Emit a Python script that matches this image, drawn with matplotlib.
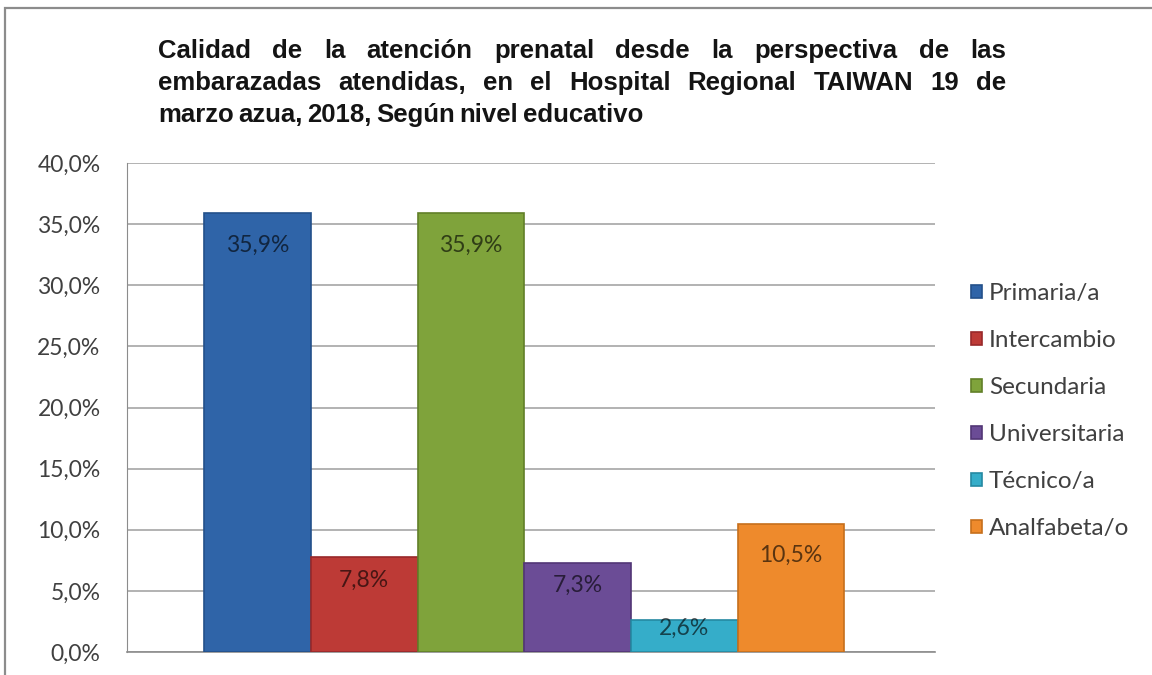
import matplotlib
matplotlib.use('Agg')
import matplotlib.pyplot as plt
from matplotlib.patches import Rectangle

# Datos del gráfico
categorias = ['Primaria/a', 'Intercambio', 'Secundaria', 'Universitaria', 'Técnico/a', 'Analfabeta/o']
valores = [35.9, 7.8, 35.9, 7.3, 2.6, 10.5]
colores = ['#2F64A8', '#BD3A36', '#7FA33B', '#6B4C96', '#35ADC9', '#EE8A2C']
bordes = ['#23508A', '#98292A', '#617F28', '#523676', '#2589A2', '#C66F1C']
ticks_y = [0, 5, 10, 15, 20, 25, 30, 35, 40]

titulo = [
    "Calidad de la atención prenatal desde la perspectiva de las",
    "embarazadas atendidas, en el Hospital Regional TAIWAN 19 de",
    "marzo azua, 2018, Según nivel educativo",
]

W, H = 1152, 675
fig = plt.figure(figsize=(W / 100, H / 100), dpi=100)
fig.patch.set_facecolor('white')

# marco exterior
fig.patches.append(Rectangle((5 / W, -0.02), 1.05, 1 - 8 / H + 0.02,
                             transform=fig.transFigure, fill=False,
                             edgecolor='#8c8c8c', linewidth=1.6))

ax = fig.add_axes([127 / W, 1 - 652 / H, (935 - 127) / W, (652 - 163) / H])

barras = []
for i, (v, c, b) in enumerate(zip(valores, colores, bordes)):
    bar = ax.bar(i, v, width=1.0, color=c, edgecolor=b, linewidth=1.2,
                 label=categorias[i], zorder=3)
    barras.append(bar)
    y_lab = max(v - 2.6, v * 0.75)
    ax.text(i, y_lab, f"{v:.1f}%".replace('.', ','), ha='center', va='center',
            fontsize=16.5, family='Lato', color='black', alpha=0.62, zorder=4)

ax.set_xlim(-1.223, 6.35)
ax.set_ylim(0, 40)
ax.set_yticks(ticks_y)
ax.set_yticklabels([f"{t:.1f}%".replace('.', ',') for t in ticks_y],
                   fontsize=16.5, family='Lato', color='#404040')
ax.tick_params(axis='y', length=0, pad=19)
ax.set_xticks([])
ax.grid(axis='y', color='#a6a6a6', linewidth=1.2, zorder=0)
for s in ['top', 'right']:
    ax.spines[s].set_visible(False)
ax.spines['left'].set_color('#8c8c8c')
ax.spines['bottom'].set_color('#8c8c8c')
ax.spines['bottom'].set_linewidth(1.2)

# leyenda
leg = fig.legend(handles=[b[0] for b in barras], labels=categorias,
                 loc='upper left', bbox_to_anchor=(949 / W, 1 - 261 / H),
                 frameon=False, handlelength=0.45, handleheight=0.45,
                 handletextpad=0.3, labelspacing=1.07,
                 prop={'family': 'Lato', 'size': 17.5})
for t in leg.get_texts():
    t.set_color('#404040')

# título justificado
fig.canvas.draw()
renderer = fig.canvas.get_renderer()
x0, x1 = 158, 1006
bases = [58, 90, 122]
for n, (linea, yb) in enumerate(zip(titulo, bases)):
    palabras = linea.split(' ')
    textos = [fig.text(0, 1 - yb / H, p, fontsize=18.5, fontweight='bold',
                       family='Liberation Sans', color='#141414', va='baseline')
              for p in palabras]
    anchos = [t.get_window_extent(renderer).width for t in textos]
    if n < 2:
        hueco = (x1 - x0 - sum(anchos)) / (len(palabras) - 1)
    else:
        hueco = 4.5
    x = x0
    for t, w in zip(textos, anchos):
        t.set_x(x / W)
        x += w + hueco

fig.savefig('out.png', dpi=100)
